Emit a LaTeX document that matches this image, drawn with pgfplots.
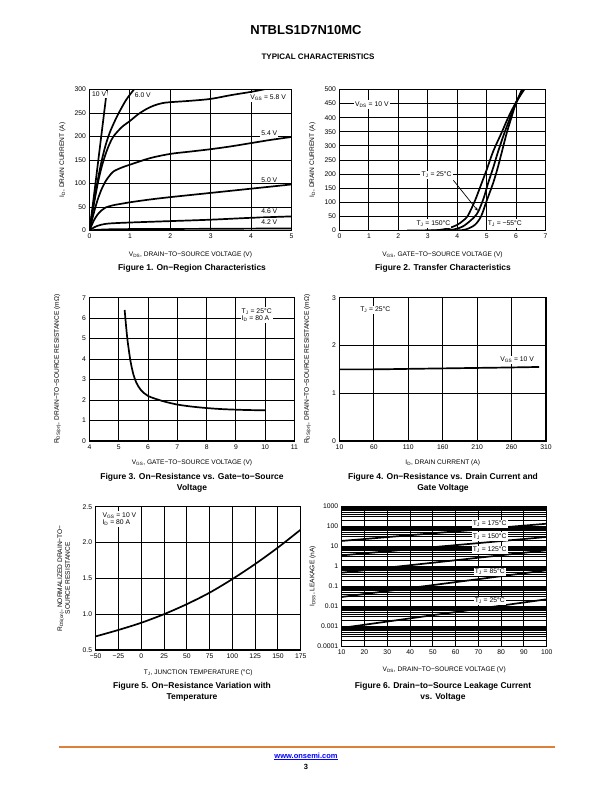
\documentclass[border=0pt]{standalone}
\usepackage{fontspec}
\setmainfont{Liberation Sans}
\usepackage{pgfplots}
\pgfplotsset{compat=1.18}
\usetikzlibrary{arrows.meta}
\definecolor{onorange}{RGB}{222,128,56}
\definecolor{linkblue}{RGB}{0,0,255}

\newcommand{\lf}{\fontsize{6.6}{7.6}\selectfont}
\newcommand{\tf}{\fontsize{6.8}{7.6}\selectfont}
\newcommand{\cf}{\fontsize{8.5}{10.5}\selectfont\bfseries}
\pgfplotsset{
  dsaxis/.style={
    scale only axis,
    anchor=north west,
    clip mode=individual,
    axis line style={line width=1.1pt},
    grid=major,
    major grid style={black, line width=0.95pt},
    tick style={draw=none},
    ticklabel style={font=\tf},
    /pgf/number format/assume math mode=true,
    label style={font=\lf},
    cycle list={{black,mark=none}},
    every axis plot/.append style={line width=1.7pt, smooth, tension=0.5},
    xlabel style={anchor=center},
    ylabel style={anchor=center},
  },
}
\tikzset{lbl/.style={fill=white, inner sep=1.2pt, font=\tf}}

\begin{document}
\begin{tikzpicture}
\useasboundingbox (0pt,0pt) rectangle (612pt,-792pt);
\fill[white] (0pt,0pt) rectangle (612pt,-792pt);

\node[font=\fontsize{13}{15}\selectfont\bfseries] at (306pt,-30pt) {NTBLS1D7N10MC};
\node[font=\fontsize{8}{9.6}\selectfont\bfseries] at (318pt,-57pt) {TYPICAL CHARACTERISTICS};

% ---------- Figure 1 ----------
\begin{axis}[dsaxis, at={(89.5pt,-89.5pt)}, width=202pt, height=141pt,
  xmin=0, xmax=5, ymin=0, ymax=300,
  xtick={0,1,2,3,4,5}, ytick={0,50,100,150,200,250,300},
  xlabel={V\textsubscript{DS}, DRAIN−TO−SOURCE VOLTAGE (V)},
  ylabel={I\textsubscript{D}, DRAIN CURRENT (A)},
  xlabel style={at={([yshift=-24pt]axis description cs:0.5,0)}},
  ylabel style={at={([xshift=-27pt]axis description cs:0,0.5)}},
]
\addplot coordinates {(0,0) (0.1,67) (0.2,137) (0.3,207) (0.4,277) (0.46,318)};
\addplot coordinates {(0,0) (0.1,55) (0.2,105) (0.3,148) (0.4,182) (0.5,208) (0.6,228) (0.7,246) (0.8,262) (0.9,277) (1.0,289) (1.1,300) (1.15,306)};
\addplot coordinates {(0,0) (0.1,52) (0.2,98) (0.3,135) (0.4,163) (0.5,185) (0.6,201) (0.8,220) (1.0,233) (1.2,247) (1.4,258) (1.6,266) (1.8,271) (2.0,273) (2.5,276) (3.0,280) (3.5,288) (4.0,295) (4.3,300) (4.4,302)};
\addplot coordinates {(0,0) (0.1,35) (0.2,65) (0.3,88) (0.4,105) (0.5,117) (0.6,126) (0.8,134) (1.0,140) (1.5,154) (2.0,163) (2.5,168) (3.0,173) (3.5,179) (4.0,186) (4.5,193) (5.0,199)};
\addplot coordinates {(0,0) (0.1,20) (0.2,34) (0.3,43) (0.4,49) (0.6,54) (0.8,57) (1.0,60) (1.5,66) (2.0,71) (3.0,80) (4.0,89) (5.0,98)};
\addplot coordinates {(0,0) (0.1,6) (0.2,10) (0.3,12.5) (0.5,15) (1.0,17) (2.0,20) (3.0,23) (4.0,27) (5.0,30)};
\addplot coordinates {(0,0) (0.2,1.5) (0.5,2.5) (1,3) (2,3.3) (3,3.6) (4,4) (5,4.3)};
\node[lbl] at (axis cs:0.24,290) {10 V};
\node[lbl] at (axis cs:1.32,287) {6.0 V};
\node[lbl] at (axis cs:4.42,283) {V\textsubscript{GS} = 5.8 V};
\node[lbl] at (axis cs:4.45,207) {5.4 V};
\node[lbl] at (axis cs:4.45,108) {5.0 V};
\node[lbl] at (axis cs:4.45,41) {4.6 V};
\node[lbl] at (axis cs:4.45,18) {4.2 V};
\end{axis}
\node[font=\cf] at (192pt,-268pt) {Figure 1. On−Region Characteristics};

% ---------- Figure 2 ----------
\begin{axis}[dsaxis, at={(339.5pt,-89.5pt)}, width=206pt, height=141pt,
  xmin=0, xmax=7, ymin=0, ymax=500,
  xtick={0,1,2,3,4,5,6,7}, ytick={0,50,100,150,200,250,300,350,400,450,500},
  xlabel={V\textsubscript{GS}, GATE−TO−SOURCE VOLTAGE (V)},
  ylabel={I\textsubscript{D}, DRAIN CURRENT (A)},
  xlabel style={at={([yshift=-24pt]axis description cs:0.5,0)}},
  ylabel style={at={([xshift=-27pt]axis description cs:0,0.5)}},
]
\addplot coordinates {(2.3,0) (3.0,0.3) (3.4,2) (3.7,8) (4.0,20) (4.2,35) (4.36,52) (4.6,105) (4.83,168) (5.0,215) (5.22,280) (5.5,345) (5.73,400) (6.0,455) (6.28,500)};
\addplot coordinates {(2.9,0) (3.5,0.5) (3.9,4) (4.2,15) (4.45,35) (4.6,50) (4.72,68) (4.9,115) (5.05,168) (5.22,222) (5.39,280) (5.6,345) (5.8,400) (6.0,452) (6.24,500)};
\addplot coordinates {(3.3,0) (4.0,0.5) (4.3,4) (4.6,20) (4.81,50) (5.0,105) (5.22,168) (5.37,220) (5.52,280) (5.68,345) (5.84,400) (5.99,450) (6.2,500)};
\node[lbl] at (axis cs:1.1,447) {V\textsubscript{DS} = 10 V};
\node[lbl] at (axis cs:3.3,197) {T\textsubscript{J} = 25°C};
\draw[line width=0.7pt, -{Stealth[length=3.5pt,width=3pt]}] (axis cs:3.87,178) -- (axis cs:4.7,70);
\node[lbl] at (axis cs:3.19,25) {T\textsubscript{J} = 150°C};
\node[lbl] at (axis cs:5.62,25) {T\textsubscript{J} = −55°C};
\end{axis}
\node[font=\cf] at (443pt,-268pt) {Figure 2. Transfer Characteristics};

% ---------- Figure 3 ----------
\begin{axis}[dsaxis, at={(89.5pt,-297.7pt)}, width=205pt, height=143.3pt,
  xmin=4, xmax=11, ymin=0, ymax=7,
  xtick={4,5,6,7,8,9,10,11}, ytick={0,1,2,3,4,5,6,7},
  xlabel={V\textsubscript{GS}, GATE−TO−SOURCE VOLTAGE (V)},
  ylabel={R\textsubscript{DS(on)}, DRAIN−TO−SOURCE RESISTANCE (mΩ)},
  xlabel style={at={([yshift=-22pt]axis description cs:0.5,0)}},
  ylabel style={at={([xshift=-32pt]axis description cs:0,0.5)}},
]
\addplot coordinates {(5.2,6.4) (5.25,5.6) (5.3,4.9) (5.4,3.9) (5.5,3.25) (5.6,2.85) (5.75,2.5) (6,2.2) (6.5,1.95) (7,1.78) (7.5,1.68) (8,1.61) (8.5,1.56) (9,1.53) (9.5,1.51) (10,1.5)};
\node[lbl, align=left, anchor=west] at (axis cs:9.15,6.15) {T\textsubscript{J} = 25°C\\I\textsubscript{D} = 80 A};
\end{axis}
\node[font=\cf, align=center] at (192pt,-483pt) {Figure 3. On−Resistance vs. Gate−to−Source\\Voltage};

% ---------- Figure 4 ----------
\begin{axis}[dsaxis, at={(339.5pt,-297.7pt)}, width=206.5pt, height=143.3pt,
  xmin=10, xmax=310, ymin=0, ymax=3,
  xtick={10,60,110,160,210,260,310}, ytick={0,1,2,3},
  xlabel={I\textsubscript{D}, DRAIN CURRENT (A)},
  ylabel={R\textsubscript{DS(on)}, DRAIN−TO−SOURCE RESISTANCE (mΩ)},
  xlabel style={at={([yshift=-22pt]axis description cs:0.5,0)}},
  ylabel style={at={([xshift=-32pt]axis description cs:0,0.5)}},
]
\addplot coordinates {(10,1.5) (60,1.5) (110,1.51) (160,1.52) (210,1.53) (260,1.54) (300,1.55)};
\node[lbl] at (axis cs:62,2.74) {T\textsubscript{J} = 25°C};
\node[lbl] at (axis cs:268,1.7) {V\textsubscript{GS} = 10 V};
\end{axis}
\node[font=\cf, align=center] at (443pt,-483pt) {Figure 4. On−Resistance vs. Drain Current and\\Gate Voltage};

% ---------- Figure 5 ----------
\begin{axis}[dsaxis, at={(95.7pt,-506.7pt)}, width=205pt, height=143.3pt,
  xmin=-50, xmax=175, ymin=0.5, ymax=2.5,
  xtick={-50,-25,0,25,50,75,100,125,150,175},
  xticklabels={−50,−25,0,25,50,75,100,125,150,175},
  ytick={0.5,1,1.5,2,2.5}, yticklabels={0.5,1.0,1.5,2.0,2.5},
  xlabel={T\textsubscript{J}, JUNCTION TEMPERATURE (°C)},
  ylabel={R\textsubscript{DS(on)}, NORMALIZED DRAIN−TO−\\SOURCE RESISTANCE},
  xlabel style={at={([yshift=-23pt]axis description cs:0.5,0)}},
  ylabel style={align=center, at={([xshift=-32pt]axis description cs:0,0.5)}},
]
\addplot coordinates {(-50,0.69) (-25,0.78) (0,0.88) (25,1.0) (50,1.14) (75,1.3) (100,1.49) (125,1.7) (150,1.93) (175,2.18)};
\node[lbl, align=left, anchor=north west] at (axis cs:-44,2.44) {V\textsubscript{GS} = 10 V\\I\textsubscript{D} = 80 A};
\end{axis}
\node[font=\cf, align=center] at (192pt,-692pt) {Figure 5. On−Resistance Variation with\\Temperature};

% ---------- Figure 6 ----------
\begin{axis}[dsaxis, at={(341.7pt,-506.5pt)}, width=205pt, height=140pt,
  xmin=10, xmax=100, ymode=log, ymin=1e-4, ymax=1e3,
  grid=both, minor grid style={black, line width=0.95pt},
  xtick={10,20,30,40,50,60,70,80,90,100},
  ytick={1e-4,1e-3,1e-2,1e-1,1,10,100,1000},
  yticklabels={0.0001,0.001,0.01,0.1,1,10,100,1000},
  xlabel={V\textsubscript{DS}, DRAIN−TO−SOURCE VOLTAGE (V)},
  ylabel={I\textsubscript{DSS}, LEAKAGE (nA)},
  xlabel style={at={([yshift=-23pt]axis description cs:0.5,0)}},
  ylabel style={at={([xshift=-29pt]axis description cs:0,0.5)}},
]
\addplot coordinates {(10,19) (100,138)};
\addplot coordinates {(10,3.6) (100,30)};
\addplot coordinates {(10,0.49) (100,6.5)};
\addplot coordinates {(10,0.03) (100,0.65)};
\addplot coordinates {(10,0.00085) (100,0.023)};
\node[lbl] at (axis cs:75,138) {T\textsubscript{J} = 175°C};
\node[lbl] at (axis cs:75,32) {T\textsubscript{J} = 150°C};
\node[lbl] at (axis cs:75,6.9) {T\textsubscript{J} = 125°C};
\node[lbl] at (axis cs:75,0.53) {T\textsubscript{J} = 85°C};
\node[lbl] at (axis cs:75,0.019) {T\textsubscript{J} = 25°C};
\end{axis}
\node[font=\cf, align=center] at (443pt,-692pt) {Figure 6. Drain−to−Source Leakage Current\\vs. Voltage};

% ---------- Footer ----------
\draw[onorange, line width=2pt] (59pt,-746.5pt) -- (555pt,-746.5pt);
\node[font=\fontsize{7.5}{9}\selectfont\bfseries, text=linkblue] at (306pt,-756.5pt) {\underline{www.onsemi.com}};
\node[font=\fontsize{7.5}{9}\selectfont\bfseries] at (306pt,-767pt) {3};
\end{tikzpicture}
\end{document}
